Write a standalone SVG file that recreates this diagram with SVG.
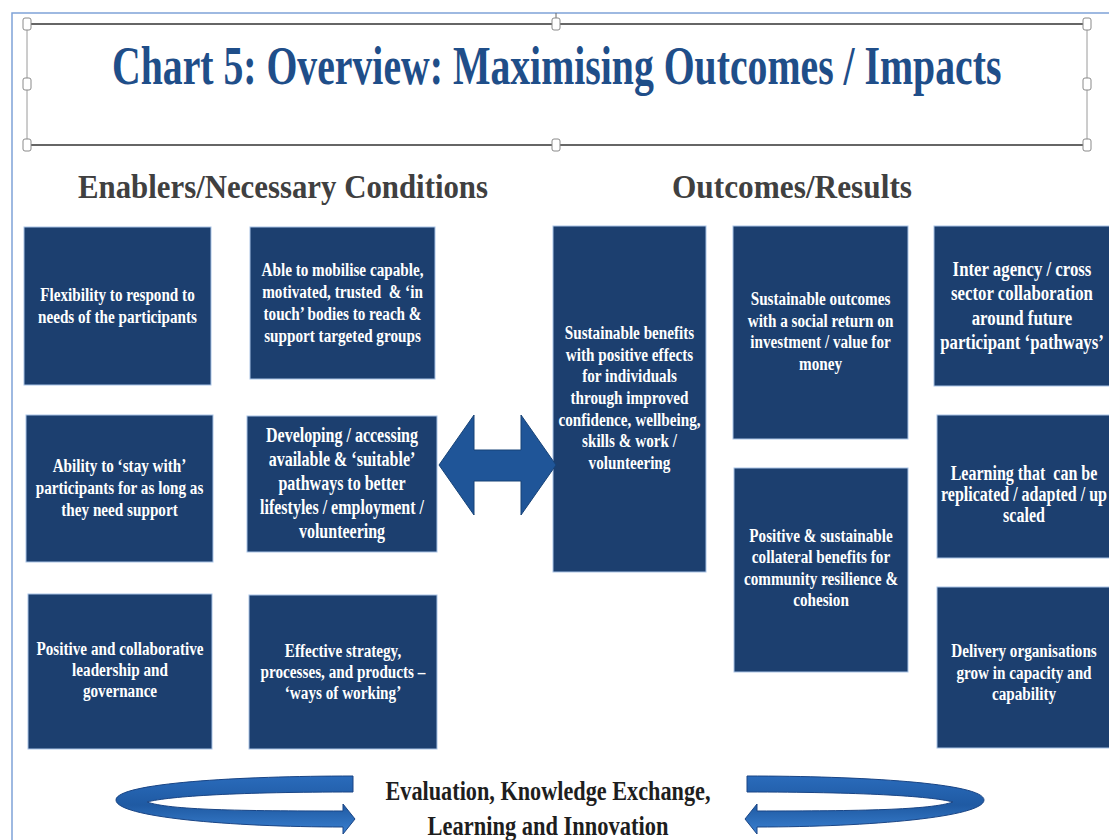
<svg xmlns="http://www.w3.org/2000/svg" width="1109" height="840" viewBox="0 0 1109 840">
  <defs>
    <style>
      .box { fill: #1c3f6f; stroke: #a9c4e6; stroke-width: 1; }
      .bt { font-family: "Liberation Serif", "Times New Roman", serif; font-weight: bold; font-size: 19px; fill: #ffffff; text-anchor: middle; white-space: pre; }
      .hdr { font-family: "Liberation Serif", "Times New Roman", serif; font-weight: bold; font-size: 33px; fill: #404040; }
      .ttl { font-family: "Liberation Serif", "Times New Roman", serif; font-weight: bold; font-size: 54px; fill: #1f4e89; }
      .cyc { font-family: "Liberation Serif", "Times New Roman", serif; font-weight: bold; font-size: 27px; fill: #1e1e1e; text-anchor: middle; }
      .handle { fill: #ffffff; stroke: #8a8a8a; stroke-width: 1; }
      .frame { stroke: #7fa3d8; stroke-width: 1.5; fill: none; }
    </style>
    <linearGradient id="ribbon" x1="0" y1="0" x2="0" y2="1">
      <stop offset="0" stop-color="#2a6bbb"/>
      <stop offset="0.5" stop-color="#1f5aa3"/>
      <stop offset="1" stop-color="#3a80d0"/>
    </linearGradient>
    <path id="loop" d="M353 776 C240 776 116 783 116 800 C116 817 230 827 343 827 L343 834 L355 819 L343 804 L343 811 C240 811 170 810 147 802 C170 796 240 792 353 792 Z"/>
  </defs>

  <rect width="1109" height="840" fill="#ffffff"/>

  <!-- page frame -->
  <path class="frame" d="M12 840 L12 13 L1109 13"/>

  <!-- title text box with its selection handles -->
  <g id="title">
    <line x1="27" y1="24" x2="1087" y2="24" stroke="#666" stroke-width="2"/>
    <line x1="27" y1="145" x2="1087" y2="145" stroke="#666" stroke-width="2"/>
    <line x1="27" y1="24" x2="27" y2="145" stroke="#9a9a9a" stroke-width="1"/>
    <line x1="1087" y1="24" x2="1087" y2="145" stroke="#9a9a9a" stroke-width="1"/>
    <line x1="556" y1="13" x2="556" y2="19" stroke="#666" stroke-width="1"/>
    <rect class="handle" x="23" y="18" width="8" height="12" rx="2"/>
    <rect class="handle" x="552" y="18" width="8" height="12" rx="2"/>
    <rect class="handle" x="1083" y="18" width="8" height="12" rx="2"/>
    <rect class="handle" x="23" y="78" width="8" height="12" rx="2"/>
    <rect class="handle" x="1083" y="78" width="8" height="12" rx="2"/>
    <rect class="handle" x="23" y="139" width="8" height="12" rx="2"/>
    <rect class="handle" x="552" y="139" width="8" height="12" rx="2"/>
    <rect class="handle" x="1083" y="139" width="8" height="12" rx="2"/>
    <g transform="translate(112 0) scale(0.735 1)">
      <text class="ttl" x="0" y="84" textLength="1210" lengthAdjust="spacingAndGlyphs">Chart 5: Overview: Maximising Outcomes / Impacts</text>
    </g>
  </g>

  <!-- column headings -->
  <g id="hdr-enablers">
    <text class="hdr" x="78" y="198" textLength="410" lengthAdjust="spacingAndGlyphs">Enablers/Necessary Conditions</text>
  </g>
  <g id="hdr-outcomes">
    <text class="hdr" x="672" y="198" textLength="240" lengthAdjust="spacingAndGlyphs">Outcomes/Results</text>
  </g>

  <!-- enablers -->
  <g id="flexibility">
    <rect class="box" x="24" y="227" width="187" height="158"/>
    <g transform="translate(117.5 0) scale(0.8 1)">
      <text class="bt"><tspan x="0" y="301">Flexibility to respond to</tspan><tspan x="0" y="323">needs of the participants</tspan></text>
    </g>
  </g>
  <g id="mobilise">
    <rect class="box" x="250" y="227" width="185" height="152"/>
    <g transform="translate(342.5 0) scale(0.8 1)">
      <text class="bt"><tspan x="0" y="276">Able to mobilise capable,</tspan><tspan x="0" y="298">motivated, trusted  &amp; ‘in</tspan><tspan x="0" y="320">touch’ bodies to reach &amp;</tspan><tspan x="0" y="342">support targeted groups</tspan></text>
    </g>
  </g>
  <g id="stay-with">
    <rect class="box" x="26" y="415" width="187" height="147"/>
    <g transform="translate(119.5 0) scale(0.8 1)">
      <text class="bt"><tspan x="0" y="472">Ability to ‘stay with’</tspan><tspan x="0" y="494">participants for as long as</tspan><tspan x="0" y="516">they need support</tspan></text>
    </g>
  </g>
  <g id="pathways">
    <rect class="box" x="247" y="416" width="190" height="136"/>
    <g transform="translate(342 0) scale(0.8 1)">
      <text class="bt" style="font-size:20px"><tspan x="0" y="442">Developing / accessing</tspan><tspan x="0" y="466">available &amp; ‘suitable’</tspan><tspan x="0" y="490">pathways to better</tspan><tspan x="0" y="514">lifestyles / employment /</tspan><tspan x="0" y="538">volunteering</tspan></text>
    </g>
  </g>
  <g id="leadership">
    <rect class="box" x="28" y="594" width="184" height="155"/>
    <g transform="translate(120 0) scale(0.8 1)">
      <text class="bt"><tspan x="0" y="655">Positive and collaborative</tspan><tspan x="0" y="676">leadership and</tspan><tspan x="0" y="697">governance</tspan></text>
    </g>
  </g>
  <g id="ways-of-working">
    <rect class="box" x="249" y="595" width="188" height="154"/>
    <g transform="translate(343 0) scale(0.8 1)">
      <text class="bt"><tspan x="0" y="657">Effective strategy,</tspan><tspan x="0" y="678">processes, and products –</tspan><tspan x="0" y="699">‘ways of working’</tspan></text>
    </g>
  </g>

  <!-- outcomes -->
  <g id="individual-benefits">
    <rect class="box" x="553" y="226" width="153" height="346"/>
    <g transform="translate(629.5 0) scale(0.8 1)">
      <text class="bt"><tspan x="0" y="339">Sustainable benefits</tspan><tspan x="0" y="361">with positive effects</tspan><tspan x="0" y="382">for individuals</tspan><tspan x="0" y="404">through improved</tspan><tspan x="0" y="426">confidence, wellbeing,</tspan><tspan x="0" y="447">skills &amp; work /</tspan><tspan x="0" y="469">volunteering</tspan></text>
    </g>
  </g>
  <g id="social-return">
    <rect class="box" x="733" y="226" width="175" height="213"/>
    <g transform="translate(820.5 0) scale(0.8 1)">
      <text class="bt"><tspan x="0" y="305">Sustainable outcomes</tspan><tspan x="0" y="327">with a social return on</tspan><tspan x="0" y="348">investment / value for</tspan><tspan x="0" y="370">money</tspan></text>
    </g>
  </g>
  <g id="community">
    <rect class="box" x="734" y="468" width="174" height="204"/>
    <g transform="translate(821 0) scale(0.8 1)">
      <text class="bt"><tspan x="0" y="542">Positive &amp; sustainable</tspan><tspan x="0" y="563">collateral benefits for</tspan><tspan x="0" y="585">community resilience &amp;</tspan><tspan x="0" y="606">cohesion</tspan></text>
    </g>
  </g>
  <g id="collaboration">
    <rect class="box" x="934" y="226" width="185" height="160"/>
    <g transform="translate(1022 0) scale(0.8 1)">
      <text class="bt" style="font-size:21px"><tspan x="0" y="276">Inter agency / cross</tspan><tspan x="0" y="300">sector collaboration</tspan><tspan x="0" y="325">around future</tspan><tspan x="0" y="349">participant ‘pathways’</tspan></text>
    </g>
  </g>
  <g id="learning">
    <rect class="box" x="937" y="415" width="182" height="143"/>
    <g transform="translate(1024 0) scale(0.8 1)">
      <text class="bt" style="font-size:20px"><tspan x="0" y="480">Learning that  can be</tspan><tspan x="0" y="501">replicated / adapted / up</tspan><tspan x="0" y="522">scaled</tspan></text>
    </g>
  </g>
  <g id="capacity">
    <rect class="box" x="937" y="587" width="182" height="161"/>
    <g transform="translate(1024 0) scale(0.8 1)">
      <text class="bt"><tspan x="0" y="657">Delivery organisations</tspan><tspan x="0" y="679">grow in capacity and</tspan><tspan x="0" y="700">capability</tspan></text>
    </g>
  </g>

  <!-- learning cycle caption -->
  <g id="learning-cycle">
    <text class="cyc" x="548" y="800" textLength="325" lengthAdjust="spacingAndGlyphs">Evaluation, Knowledge Exchange,</text>
    <text class="cyc" x="548" y="835" textLength="241" lengthAdjust="spacingAndGlyphs">Learning and Innovation</text>
  </g>

  <!-- connectors -->
  <g id="connectors">
    <path d="M439 465 L474 415 L474 450 L521 450 L521 415 L556 465 L521 515 L521 481 L474 481 L474 515 Z" fill="#1f5598" stroke="#174377" stroke-width="1"/>
    <use href="#loop" fill="url(#ribbon)" stroke="#1a4585" stroke-width="1"/>
    <use href="#loop" transform="translate(1100 0) scale(-1 1)" fill="url(#ribbon)" stroke="#1a4585" stroke-width="1"/>
  </g>
</svg>
